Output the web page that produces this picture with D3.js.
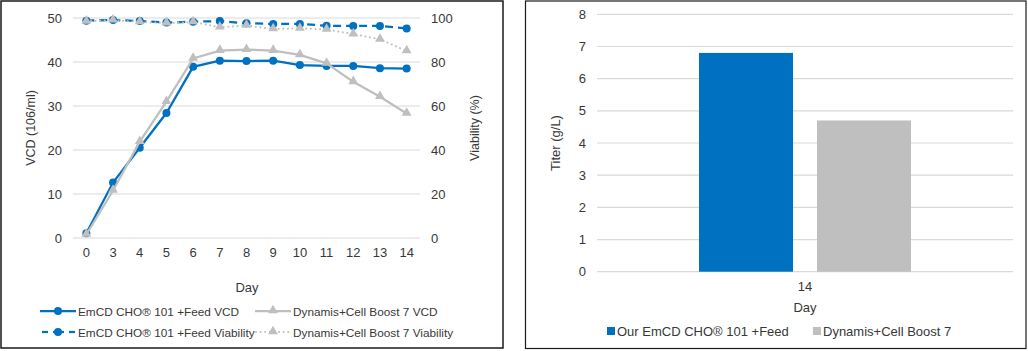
<!DOCTYPE html>
<html><head><meta charset="utf-8">
<script src="https://cdn.jsdelivr.net/npm/d3@7"></script>
<style>
body{margin:0;background:#fff;}
svg{display:block;font-family:"Liberation Sans",Arial,sans-serif;}
</style></head>
<body>
<svg id="c" width="1028" height="351"></svg>
<script>
// ---- Data ----
const days = ["0","3","4","5","6","7","8","9","10","11","12","13","14"];
const emcdVCD = [1.1,12.6,20.5,28.4,38.9,40.3,40.2,40.3,39.3,39.1,39.1,38.6,38.5];
const dynVCD  = [0.8,10.8,21.9,31.0,40.8,42.6,42.8,42.6,41.6,39.7,35.5,32.1,28.3];
const emcdViab = [98.8,99.1,98.6,97.9,98.3,98.6,97.6,97.3,97.3,96.5,96.4,96.4,95.2];
const dynViab  = [98.5,99.0,98.2,97.7,98.2,95.8,96.6,95.0,95.3,94.8,92.7,90.3,85.0];
const vcdTicks = [0,10,20,30,40,50];
const viabTicks = [0,20,40,60,80,100];
const lineLegend = ["EmCD CHO® 101 +Feed VCD","Dynamis+Cell Boost 7 VCD","EmCD CHO® 101 +Feed Viability","Dynamis+Cell Boost 7 Viability"];

const titerDay = ["14"];
const titerSeries = ["Our EmCD CHO® 101 +Feed","Dynamis+Cell Boost 7"];
const titerValues = [6.8,4.7];
const titerTicks = [0,1,2,3,4,5,6,7,8];

const BLUE="#0070C0", GRAY="#BFBFBF", GRID="#D9D9D9", TXT="#383838";
const svg = d3.select("#c");

// panel borders
svg.append("rect").attr("x",1).attr("y",1).attr("width",502).attr("height",347)
  .attr("fill","none").attr("stroke","#1a1a1a").attr("stroke-width",1.5);
svg.append("rect").attr("x",525.5).attr("y",1).attr("width",500.5).attr("height",347.5)
  .attr("fill","none").attr("stroke","#1a1a1a").attr("stroke-width",1.2);

// ===== Left chart =====
const L = svg.append("g");
const FS = "12.5px";
const x = d3.scaleBand().domain(days).range([73,420]).padding(0);
const cx = d => x(d)+x.bandwidth()/2;
const yL = d3.scaleLinear().domain([0,50]).range([238,18]);
const yR = d3.scaleLinear().domain([0,100]).range([238,18]);

L.append("g").selectAll("line").data(vcdTicks).join("line")
  .attr("x1",73).attr("x2",420).attr("y1",d=>yL(d)).attr("y2",d=>yL(d))
  .attr("stroke",GRID).attr("stroke-width",1);

const axL = L.append("g").attr("transform","translate(73,0)")
  .call(d3.axisLeft(yL).tickValues(vcdTicks).tickSize(0).tickPadding(11));
const axR = L.append("g").attr("transform","translate(420,0)")
  .call(d3.axisRight(yR).tickValues(viabTicks).tickSize(0).tickPadding(11));
const axX = L.append("g").attr("transform","translate(0,238)")
  .call(d3.axisBottom(x).tickSize(0).tickPadding(10));
[axL,axR,axX].forEach(a=>{a.select(".domain").remove();
  a.selectAll("text").attr("fill",TXT).style("font-size","13px").style("font-family","Liberation Sans, Arial, sans-serif");});

L.append("text").attr("transform","translate(35,128) rotate(-90)").attr("text-anchor","middle")
  .attr("fill",TXT).style("font-size",FS).text("VCD (106/ml)");
L.append("text").attr("transform","translate(479,128) rotate(-90)").attr("text-anchor","middle")
  .attr("fill",TXT).style("font-size",FS).text("Viability (%)");
L.append("text").attr("x",247).attr("y",292).attr("text-anchor","middle")
  .attr("fill",TXT).style("font-size","13px").text("Day");

const tri = d3.symbol().type(d3.symbolTriangle).size(42);
const DOT = "0.1,4.5";
function series(vals, yS, color, dash, marker){
  const g = L.append("g");
  const line = d3.line().x((d,i)=>cx(days[i])).y(d=>yS(d));
  g.append("path").datum(vals).attr("d",line).attr("fill","none")
   .attr("stroke",color).attr("stroke-width",dash===DOT?2:2.25)
   .attr("stroke-dasharray",dash||null).attr("stroke-linecap",dash===DOT?"round":"butt");
  if(marker==="circle"){
    g.selectAll("circle").data(vals).join("circle")
     .attr("cx",(d,i)=>cx(days[i])).attr("cy",d=>yS(d)).attr("r",4).attr("fill",color);
  } else {
    g.selectAll("path.m").data(vals).join("path").attr("class","m").attr("d",tri)
     .attr("transform",(d,i)=>`translate(${cx(days[i])},${yS(d)-0.5})`).attr("fill",color);
  }
}
series(emcdVCD,yL,BLUE,null,"circle");
series(dynVCD,yL,GRAY,null,"tri");
series(emcdViab,yR,BLUE,"8,5","circle");
series(dynViab,yR,GRAY,DOT,"tri");

// legend
const legPos = [[40,311],[255,311],[40,332],[255,332]];
const legStyle = [[BLUE,null,"circle"],[GRAY,null,"tri"],[BLUE,"dash","circle"],[GRAY,DOT,"tri"]];
lineLegend.forEach((t,i)=>{
  const [lx,ly]=legPos[i], [c,d,m]=legStyle[i];
  const g=L.append("g");
  if(d==="dash"){
    g.append("line").attr("x1",lx+2).attr("x2",lx+8).attr("y1",ly).attr("y2",ly).attr("stroke",c).attr("stroke-width",2.25);
    g.append("line").attr("x1",lx+13).attr("x2",lx+24).attr("y1",ly).attr("y2",ly).attr("stroke",c).attr("stroke-width",2.25);
    g.append("line").attr("x1",lx+29).attr("x2",lx+35).attr("y1",ly).attr("y2",ly).attr("stroke",c).attr("stroke-width",2.25);
  } else {
    g.append("line").attr("x1",lx+(d?1:0)).attr("x2",lx+36).attr("y1",ly).attr("y2",ly).attr("stroke",c)
     .attr("stroke-width",d?2:2.25).attr("stroke-dasharray",d).attr("stroke-linecap",d?"round":"butt");
  }
  if(m==="circle") g.append("circle").attr("cx",lx+18).attr("cy",ly).attr("r",4).attr("fill",c);
  else g.append("path").attr("d",tri).attr("transform",`translate(${lx+18},${ly-0.5})`).attr("fill",c);
  g.append("text").attr("x",lx+38).attr("y",ly+4.5).attr("fill",TXT).style("font-size","11.8px").text(t);
});

// ===== Right chart =====
const R = svg.append("g");
const y2 = d3.scaleLinear().domain([0,8]).range([271.7,14.3]);
const x0 = d3.scaleBand().domain(titerDay).range([597,1013]).paddingInner(0).paddingOuter(0.481);
const x1 = d3.scaleBand().domain(titerSeries).range([0,x0.bandwidth()]).paddingInner(0.203).paddingOuter(0);

R.append("g").selectAll("line").data(titerTicks).join("line")
  .attr("x1",597).attr("x2",1013).attr("y1",d=>y2(d)).attr("y2",d=>y2(d))
  .attr("stroke",GRID).attr("stroke-width",1.2);

const ax2 = R.append("g").attr("transform","translate(597,0)")
  .call(d3.axisLeft(y2).tickValues(titerTicks).tickSize(0).tickPadding(11));
const ax2x = R.append("g").attr("transform","translate(0,271.7)")
  .call(d3.axisBottom(x0).tickSize(0).tickPadding(10));
[ax2,ax2x].forEach(a=>{a.select(".domain").remove();
  a.selectAll("text").attr("fill",TXT).style("font-size","13px").style("font-family","Liberation Sans, Arial, sans-serif");});

R.append("g").selectAll("rect").data(titerValues).join("rect")
  .attr("x",(d,i)=>x0("14")+x1(titerSeries[i])).attr("width",x1.bandwidth())
  .attr("y",d=>y2(d)).attr("height",d=>y2(0)-y2(d))
  .attr("fill",(d,i)=>i===0?BLUE:GRAY);

R.append("text").attr("transform","translate(560,143) rotate(-90)").attr("text-anchor","middle")
  .attr("fill",TXT).style("font-size","13px").text("Titer (g/L)");
R.append("text").attr("x",805).attr("y",312).attr("text-anchor","middle")
  .attr("fill",TXT).style("font-size","13px").text("Day");

const leg2 = [[607,BLUE],[813,GRAY]];
titerSeries.forEach((t,i)=>{
  const [lx,c]=leg2[i];
  R.append("rect").attr("x",lx).attr("y",327).attr("width",8).attr("height",8).attr("fill",c);
  R.append("text").attr("x",lx+10).attr("y",335.5).attr("fill",TXT).style("font-size","13px").text(t);
});
</script>
</body></html>
